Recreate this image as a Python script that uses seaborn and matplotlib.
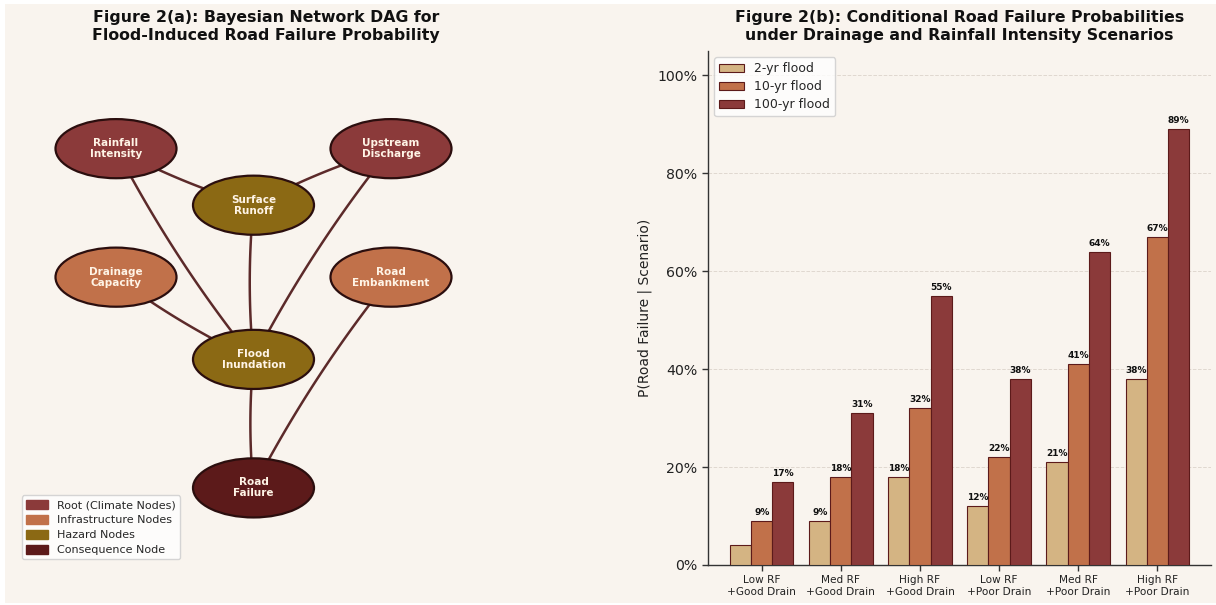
import matplotlib
matplotlib.use("Agg")
import matplotlib.pyplot as plt
import seaborn as sns
import numpy as np
import pandas as pd
from matplotlib.patches import Ellipse, Patch, Rectangle
from matplotlib.ticker import PercentFormatter

# ---- Panel (b) data: conditional failure probabilities ----
scenarios = ["Low RF\n+Good Drain", "Med RF\n+Good Drain", "High RF\n+Good Drain",
             "Low RF\n+Poor Drain", "Med RF\n+Poor Drain", "High RF\n+Poor Drain"]
flood_levels = ["2-yr flood", "10-yr flood", "100-yr flood"]
p_2yr = [0.04, 0.09, 0.18, 0.12, 0.21, 0.38]
p_10yr = [0.09, 0.18, 0.32, 0.22, 0.41, 0.67]
p_100yr = [0.17, 0.31, 0.55, 0.38, 0.64, 0.89]
y_ticks = [0.0, 0.2, 0.4, 0.6, 0.8, 1.0]

# ---- Panel (a) data: network nodes (layout grid 0-10) and edges ----
node_names = ["Rainfall\nIntensity", "Upstream\nDischarge", "Surface\nRunoff",
              "Drainage\nCapacity", "Road\nEmbankment", "Flood\nInundation", "Road\nFailure"]
node_x = [2.0, 7.5, 4.75, 2.0, 7.5, 4.75, 4.75]
node_y = [8.1, 8.1, 7.0, 5.6, 5.6, 4.0, 1.5]
node_group = ["root", "root", "hazard", "infra", "infra", "hazard", "consequence"]
edges = [(0, 2), (1, 2), (0, 5), (1, 5), (2, 5), (3, 5), (5, 6), (4, 6)]
group_labels = {"root": "Root (Climate Nodes)", "infra": "Infrastructure Nodes",
                "hazard": "Hazard Nodes", "consequence": "Consequence Node"}

# ---- Styling ----
BG = "#F9F4EE"
group_colors = {"root": "#8B3A3A", "infra": "#C1714A",
                "hazard": "#8B6914", "consequence": "#5C1A1A"}
flood_colors = ["#D4B483", "#C1714A", "#8B3A3A"]
EDGE = "#5C2A2A"
TEXT = "#111111"
EDGE_BEND = 0.05

sns.set_theme(style="white")
plt.rcParams["font.family"] = ["DejaVu Sans"]

fig = plt.figure(figsize=(12.16, 6.05), dpi=100, facecolor="white")
fig.patches.append(Rectangle((5 / 1216, 2 / 605), 1 - 5 / 1216, 1 - 6 / 605,
                             transform=fig.transFigure, facecolor=BG,
                             edgecolor="none", zorder=-10))

# ================= Panel (a): Bayesian network DAG =================
ax1 = fig.add_axes([16 / 1216, 40 / 605, 500 / 1216, 514 / 605])
ax1.set_xlim(0, 10)
ax1.set_ylim(0, 10)
ax1.axis("off")
ax1.set_facecolor(BG)

# gently curved edges (quadratic Bezier between node centres)
t = np.linspace(0, 1, 80)
for a, b in edges:
    x0, y0, x2, y2 = node_x[a], node_y[a], node_x[b], node_y[b]
    dx, dy = x2 - x0, y2 - y0
    cx = (x0 + x2) / 2 + EDGE_BEND * dy
    cy = (y0 + y2) / 2 - EDGE_BEND * dx
    xs = (1 - t) ** 2 * x0 + 2 * (1 - t) * t * cx + t ** 2 * x2
    ys = (1 - t) ** 2 * y0 + 2 * (1 - t) * t * cy + t ** 2 * y2
    ax1.plot(xs, ys, color=EDGE, lw=1.8, zorder=1, solid_capstyle="round")

for name, x, y, g in zip(node_names, node_x, node_y, node_group):
    ax1.add_patch(Ellipse((x, y), 2.42, 1.15, facecolor=group_colors[g],
                          edgecolor="#2B0E0E", lw=1.6, zorder=2))
    ax1.text(x, y, name, ha="center", va="center", fontsize=7.5,
             fontweight="bold", color="#FFF4E6", zorder=3, linespacing=1.15)

legend_handles = [Patch(facecolor=group_colors[g], edgecolor=group_colors[g],
                        label=group_labels[g])
                  for g in ["root", "infra", "hazard", "consequence"]]
ax1.legend(handles=legend_handles, loc="lower left", fontsize=8,
           frameon=True, facecolor="white", edgecolor="#cccccc",
           handlelength=2.0, handleheight=0.9, borderpad=0.4, labelspacing=0.4)
ax1.set_title("Figure 2(a): Bayesian Network DAG for\nFlood-Induced Road Failure Probability",
              fontsize=11.3, fontweight="bold", pad=8, color=TEXT)

# ================= Panel (b): grouped bar chart =================
df = pd.DataFrame({
    "Scenario": scenarios * 3,
    "Flood": [flood_levels[0]] * 6 + [flood_levels[1]] * 6 + [flood_levels[2]] * 6,
    "P": p_2yr + p_10yr + p_100yr,
})

ax2 = fig.add_axes([708 / 1216, 40 / 605, 503 / 1216, 514 / 605])
ax2.set_facecolor(BG)
sns.barplot(data=df, x="Scenario", y="P", hue="Flood", order=scenarios,
            hue_order=flood_levels, palette=flood_colors, saturation=1,
            edgecolor="#5C1A1A", linewidth=0.8, ax=ax2, zorder=3)

for container in ax2.containers:
    labels = [f"{bar.get_height():.0%}" if bar.get_height() >= 0.05 else ""
              for bar in container]
    ax2.bar_label(container, labels=labels, padding=3, fontsize=6.5,
                  fontweight="bold", color=TEXT)

ax2.set_xlim(-0.68, 5.68)
ax2.set_ylim(0, 1.05)
ax2.set_yticks(y_ticks)
ax2.yaxis.set_major_formatter(PercentFormatter(1.0, decimals=0))
ax2.set_xlabel("")
ax2.set_ylabel("P(Road Failure | Scenario)", fontsize=10, color="#222222")
ax2.tick_params(axis="x", labelsize=7.6, length=4, width=1, color="#333333",
                labelcolor="#222222", bottom=True)
ax2.tick_params(axis="y", labelsize=10.2, length=4, width=1, color="#333333",
                labelcolor="#222222", left=True)
ax2.grid(axis="y", linestyle="--", linewidth=0.7, color="#DDD5CC", alpha=0.9, zorder=0)
ax2.set_axisbelow(True)
for side in ["top", "right"]:
    ax2.spines[side].set_visible(False)
for side in ["left", "bottom"]:
    ax2.spines[side].set_color("#333333")
    ax2.spines[side].set_linewidth(1.0)

ax2.legend(loc="upper left", fontsize=9, frameon=True, facecolor="white",
           edgecolor="#cccccc", title=None, borderpad=0.4, labelspacing=0.4)
ax2.set_title("Figure 2(b): Conditional Road Failure Probabilities\n"
              "under Drainage and Rainfall Intensity Scenarios",
              fontsize=11.3, fontweight="bold", pad=8, color=TEXT)

fig.savefig("out.png", dpi=100, facecolor=fig.get_facecolor())
